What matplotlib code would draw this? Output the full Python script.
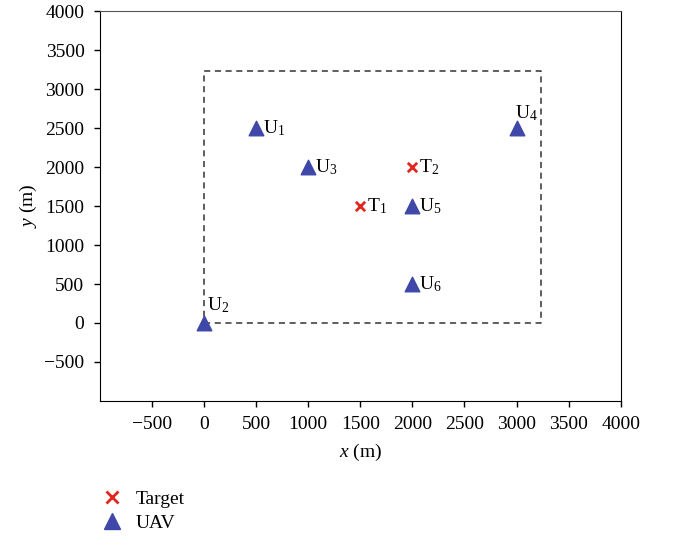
import matplotlib.pyplot as plt
from matplotlib.lines import Line2D

plt.rcParams['font.family'] = 'Liberation Serif'
plt.rcParams['mathtext.fontset'] = 'custom'
plt.rcParams['mathtext.rm'] = 'Liberation Serif'
plt.rcParams['mathtext.it'] = 'Liberation Serif:italic'

# UAV positions
uav_names = ['U$_1$', 'U$_2$', 'U$_3$', 'U$_4$', 'U$_5$', 'U$_6$']
uav_x = [500, 0, 1000, 3000, 2000, 2000]
uav_y = [2500, 0, 2000, 2500, 1500, 500]

# Target positions
target_names = ['T$_1$', 'T$_2$']
target_x = [1500, 2000]
target_y = [1500, 2000]

# Area boundary
area_x = [0, 3230, 3230, 0, 0]
area_y = [0, 0, 3230, 3230, 0]

xticks = [-500, 0, 500, 1000, 1500, 2000, 2500, 3000, 3500, 4000]
yticks = [-500, 0, 500, 1000, 1500, 2000, 2500, 3000, 3500, 4000]

fig = plt.figure(figsize=(6.74, 5.36), dpi=100)
ax = fig.add_axes([0.148, 0.252, 0.773, 0.727])

ax.plot(area_x, area_y, linestyle='--', color='#333333', linewidth=1.1, dashes=(4, 3))

uav_color = '#3F48A8'
tgt_color = '#E0261E'
ax.scatter(uav_x, uav_y, marker='^', s=110, color=uav_color, zorder=3)
ax.scatter(target_x, target_y, marker='x', s=45, color=tgt_color, linewidths=2, zorder=3)

# label offsets in points
offsets = {'U$_4$': (-1, 4), 'U$_2$': (2, 6)}
for name, x, y in zip(uav_names, uav_x, uav_y):
    dx, dy = offsets.get(name, (5, 0))
    va = 'bottom' if name in offsets else 'center'
    ax.annotate(name, (x, y), xytext=(dx, dy), textcoords='offset points',
                fontsize=14, va=va, ha='left')
for name, x, y in zip(target_names, target_x, target_y):
    ax.annotate(name, (x, y), xytext=(5, 0), textcoords='offset points',
                fontsize=14, va='center', ha='left')

ax.set_xlim(-1000, 4000)
ax.set_ylim(-1000, 4000)
ax.set_xticks(xticks)
ax.set_yticks(yticks)
ax.set_xticklabels(['\u2212500' if t < 0 else str(t) for t in xticks])
ax.set_yticklabels(['\u2212500' if t < 0 else str(t) for t in yticks])
ax.tick_params(labelsize=14, direction='out', length=4, width=1, pad=7)
ax.spines['top'].set_color('#555555')
ax.set_xlabel('$x$ (m)', fontsize=14, labelpad=6)
ax.set_ylabel('$y$ (m)', fontsize=14)

handles = [
    Line2D([], [], marker='x', linestyle='', color=tgt_color, markersize=8, markeredgewidth=2, label='Target'),
    Line2D([], [], marker='^', linestyle='', color=uav_color, markersize=11, label='UAV'),
]
fig.legend(handles=handles, loc='upper left', bbox_to_anchor=(0.135, 0.103),
           frameon=False, fontsize=14, handletextpad=0.6, labelspacing=0.3,
           borderpad=0, handlelength=1.2)

fig.savefig('out.png', dpi=100)
